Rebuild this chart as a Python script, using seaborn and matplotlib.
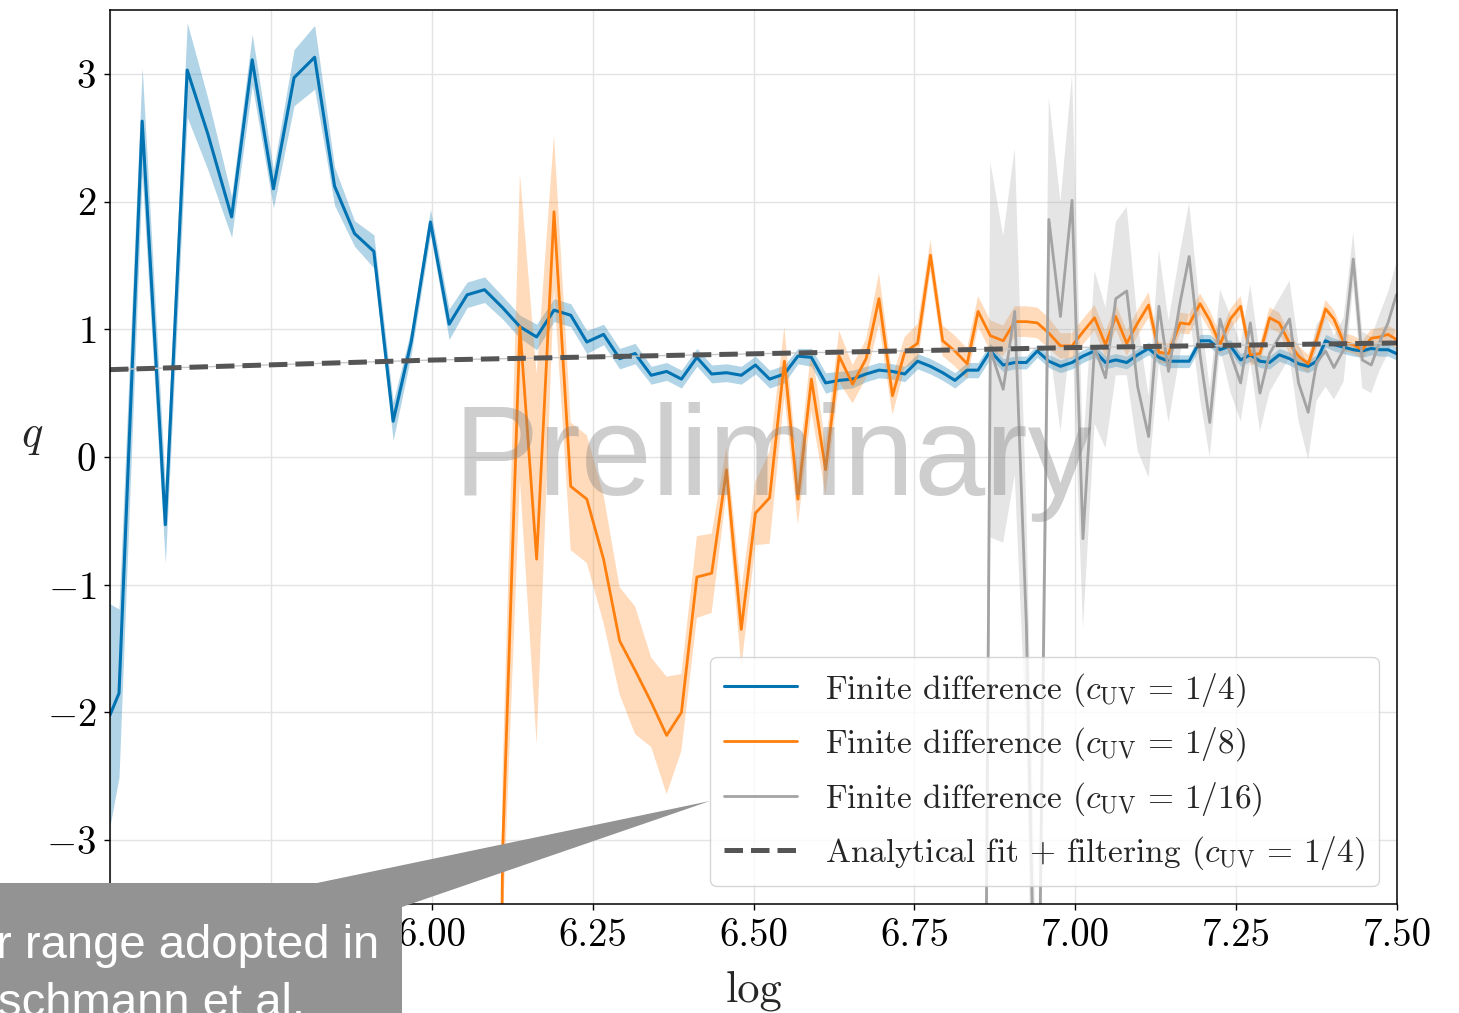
import numpy as np
import pandas as pd
import seaborn as sns
import matplotlib
matplotlib.use("Agg")
import matplotlib.pyplot as plt
from matplotlib.patches import Polygon

# ---------------------------------------------------------------------------
# Data
# ---------------------------------------------------------------------------
# common sampling grid in log space
log_x = [5.500, 5.514, 5.550, 5.586, 5.620, 5.652, 5.689, 5.721, 5.754, 5.786,
         5.818, 5.849, 5.880, 5.910, 5.940, 5.968, 5.998, 6.027, 6.055, 6.082,
         6.110, 6.137, 6.163, 6.190, 6.216, 6.241, 6.267, 6.292, 6.316, 6.341,
         6.365, 6.388, 6.412, 6.435, 6.458, 6.481, 6.503, 6.525, 6.548, 6.569,
         6.590, 6.612, 6.633, 6.654, 6.675, 6.695, 6.716, 6.735, 6.755, 6.775,
         6.794, 6.813, 6.832, 6.849, 6.868, 6.888, 6.906, 6.924, 6.941, 6.959,
         6.977, 6.995, 7.012, 7.030, 7.047, 7.063, 7.080, 7.097, 7.114, 7.130,
         7.145, 7.163, 7.177, 7.194, 7.209, 7.225, 7.241, 7.257, 7.272, 7.287,
         7.302, 7.317, 7.333, 7.347, 7.362, 7.375, 7.389, 7.402, 7.417, 7.432,
         7.446, 7.460, 7.473, 7.486, 7.499]

# c_UV = 1/4 : mean and half width of the band
q_quarter = [-2.02, -1.85, 2.63, -0.53, 3.03, 2.53, 1.88, 3.11, 2.10, 2.97,
             3.13, 2.12, 1.75, 1.61, 0.28, 0.90, 1.84, 1.04, 1.27, 1.31,
             1.17, 1.02, 0.94, 1.15, 1.11, 0.90, 0.96, 0.77, 0.81, 0.64,
             0.67, 0.61, 0.78, 0.65, 0.66, 0.64, 0.72, 0.61, 0.65, 0.79,
             0.78, 0.58, 0.60, 0.61, 0.65, 0.68, 0.67, 0.65, 0.75, 0.71,
             0.66, 0.60, 0.68, 0.68, 0.83, 0.72, 0.74, 0.74, 0.83, 0.75,
             0.71, 0.74, 0.79, 0.83, 0.74, 0.76, 0.74, 0.80, 0.85, 0.78,
             0.75, 0.75, 0.75, 0.91, 0.91, 0.84, 0.87, 0.76, 0.80, 0.75,
             0.74, 0.80, 0.77, 0.73, 0.71, 0.75, 0.91, 0.88, 0.86, 0.84,
             0.83, 0.85, 0.84, 0.84, 0.81]
err_quarter = [0.87, 0.66, 0.42, 0.30, 0.37, 0.28, 0.16, 0.20, 0.15, 0.22,
               0.25, 0.15, 0.10, 0.13, 0.15, 0.10, 0.10, 0.12, 0.10, 0.10,
               0.09, 0.09, 0.10, 0.09, 0.09, 0.09, 0.08, 0.08, 0.08, 0.07,
               0.07, 0.07, 0.07, 0.07, 0.07, 0.07, 0.07, 0.07, 0.07, 0.06,
               0.07, 0.08, 0.07, 0.07, 0.06, 0.06, 0.06, 0.06, 0.06, 0.06,
               0.06, 0.06, 0.06, 0.06, 0.06, 0.05, 0.05, 0.05, 0.05, 0.05,
               0.05, 0.05, 0.05, 0.05, 0.05, 0.05, 0.05, 0.05, 0.05, 0.05,
               0.05, 0.05, 0.05, 0.05, 0.05, 0.05, 0.05, 0.05, 0.05, 0.05,
               0.05, 0.05, 0.05, 0.05, 0.05, 0.05, 0.05, 0.05, 0.05, 0.05,
               0.05, 0.05, 0.05, 0.05, 0.05]

# c_UV = 1/8 starts at grid index 19
start_eighth = 19
q_eighth = [-20.0, -3.10, 1.02, -0.80, 1.92, -0.23, -0.33, -0.80, -1.44, -1.67,
            -1.92, -2.18, -2.00, -0.94, -0.91, -0.10, -1.35, -0.44, -0.32, 0.75,
            -0.33, 0.61, -0.10, 0.79, 0.57, 0.77, 1.24, 0.48, 0.82, 0.89,
            1.58, 0.91, 0.83, 0.73, 1.14, 0.95, 0.91, 1.06, 1.06, 1.05,
            0.97, 0.87, 0.87, 0.98, 1.09, 0.88, 1.10, 0.89, 1.05, 1.19,
            0.82, 0.81, 1.05, 1.04, 1.20, 1.07, 0.88, 1.08, 1.18, 0.80,
            0.81, 1.09, 1.05, 0.89, 0.79, 0.73, 0.92, 1.16, 1.08, 0.90,
            0.88, 0.84, 0.93, 0.94, 0.96, 0.92]
err_eighth = [0.00, 0.60, 1.20, 1.45, 0.60, 0.50, 0.50, 0.50, 0.42, 0.50,
              0.35, 0.46, 0.30, 0.32, 0.31, 0.18, 0.30, 0.25, 0.36, 0.27,
              0.20, 0.25, 0.20, 0.20, 0.15, 0.15, 0.20, 0.15, 0.12, 0.15,
              0.12, 0.12, 0.12, 0.12, 0.12, 0.12, 0.12, 0.12, 0.12, 0.12,
              0.12, 0.10, 0.10, 0.10, 0.10, 0.10, 0.10, 0.10, 0.10, 0.10,
              0.08, 0.08, 0.08, 0.08, 0.08, 0.08, 0.08, 0.08, 0.08, 0.08,
              0.08, 0.08, 0.08, 0.08, 0.08, 0.07, 0.07, 0.07, 0.07, 0.07,
              0.07, 0.07, 0.07, 0.07, 0.07, 0.07]

# c_UV = 1/16 starts at grid index 53
start_sixteenth = 53
q_sixteenth = [-13.0, 0.84, 0.53, 1.14, -1.31, -5.40, 1.86, 1.10, 2.01, -0.64,
               0.86, 0.62, 1.24, 1.30, 0.55, 0.16, 1.18, 0.67, 1.21, 1.57,
               0.80, 0.27, 1.08, 0.81, 0.58, 1.05, 0.50, 0.81, 0.94, 1.08,
               0.58, 0.35, 0.74, 0.83, 0.70, 0.84, 1.55, 0.76, 0.72, 0.90,
               1.05, 1.27]
err_sixteenth = [2.00, 1.47, 1.20, 1.28, 0.90, 1.00, 0.96, 0.90, 0.98, 0.70,
                 0.60, 0.55, 0.60, 0.66, 0.50, 0.32, 0.44, 0.40, 0.40, 0.42,
                 0.35, 0.27, 0.23, 0.30, 0.30, 0.30, 0.30, 0.30, 0.30, 0.30,
                 0.30, 0.37, 0.30, 0.28, 0.25, 0.25, 0.21, 0.22, 0.22, 0.22,
                 0.24, 0.25]

# analytical fit + filtering (c_UV = 1/4)
fit_x = [5.50, 6.00, 6.50, 7.00, 7.50]
fit_q = [0.684, 0.759, 0.808, 0.857, 0.893]

x_ticks = [5.5, 5.75, 6.0, 6.25, 6.5, 6.75, 7.0, 7.25, 7.5]
x_ticklabels = ["", "", "6.00", "6.25", "6.50", "6.75", "7.00", "7.25", "7.50"]
y_ticks = [-3, -2, -1, 0, 1, 2, 3]

labels = [r"Finite difference ($c_{\rm UV}\,=\,1/4$)",
          r"Finite difference ($c_{\rm UV}\,=\,1/8$)",
          r"Finite difference ($c_{\rm UV}\,=\,1/16$)",
          r"Analytical fit + filtering ($c_{\rm UV}\,=\,1/4$)"]

# ---------------------------------------------------------------------------
# Style
# ---------------------------------------------------------------------------
sns.set_theme(style="whitegrid")
plt.rcParams.update({
    "font.family": "serif",
    "font.serif": ["cmr10"],
    "mathtext.fontset": "cm",
    "axes.formatter.use_mathtext": True,
    "axes.unicode_minus": True,
    "axes.edgecolor": "black",
    "axes.linewidth": 1.1,
    "grid.color": "#e3e3e3",
    "grid.linewidth": 1.0,
    "xtick.bottom": True,
    "ytick.left": True,
    "xtick.major.size": 4,
    "ytick.major.size": 4,
    "xtick.color": "black",
    "ytick.color": "black",
})

BLUE = "#0173b2"
ORANGE = "#ff7f0e"
GREY = "#a3a3a3"
FIT = "#555555"

W, H = 1459, 1013
fig = plt.figure(figsize=(W / 100, H / 100), dpi=100)
ax = fig.add_axes([110 / W, 1 - 904 / H, 1287 / W, 894 / H])

x_all = np.array(log_x)


def series_frame(start, values, errs):
    x = x_all[start:start + len(values)]
    v = np.array(values)
    e = np.array(errs)
    return pd.DataFrame({"x": x, "q": v, "lo": v - e, "hi": v + e})


df_q = series_frame(0, q_quarter, err_quarter)
df_e = series_frame(start_eighth, q_eighth, err_eighth)
df_s = series_frame(start_sixteenth, q_sixteenth, err_sixteenth)
df_fit = pd.DataFrame({"x": fit_x, "q": fit_q})

for df, col, a in [(df_q, BLUE, 0.30), (df_e, ORANGE, 0.28), (df_s, GREY, 0.28)]:
    ax.fill_between(df["x"], df["lo"], df["hi"], color=col, alpha=a, lw=0)

sns.lineplot(data=df_q, x="x", y="q", color=BLUE, lw=2.2, ax=ax, label=labels[0])
sns.lineplot(data=df_e, x="x", y="q", color=ORANGE, lw=2.0, ax=ax, label=labels[1])
sns.lineplot(data=df_s, x="x", y="q", color=GREY, lw=2.0, ax=ax, label=labels[2])
sns.lineplot(data=df_fit, x="x", y="q", color="#c8c8c8", lw=1.0, ax=ax, legend=False)
sns.lineplot(data=df_fit, x="x", y="q", color=FIT, lw=3.6, ax=ax,
             linestyle="--", label=labels[3])

ax.set_xlim(5.5, 7.5)
ax.set_ylim(-3.5, 3.5)
ax.set_xticks(x_ticks)
ax.set_xticklabels(x_ticklabels)
ax.set_yticks(y_ticks)
ax.tick_params(axis="both", labelsize=28, pad=6, width=1.0, length=4)
for sp in ax.spines.values():
    sp.set_visible(True)
    sp.set_color("black")

ax.set_xlabel("log", fontsize=32, labelpad=12)
ax.set_ylabel("$q$", fontsize=32, rotation=0, va="center", ha="center")
ax.yaxis.set_label_coords(-78 / 1287, 0.522)

leg = ax.legend(loc="lower right", fontsize=24, framealpha=0.8,
                handlelength=2.2, handletextpad=0.85, borderaxespad=0.55)
leg.get_frame().set_edgecolor("#cccccc")

# watermark
ax.text(0.515, 0.4575, "Preliminary", transform=ax.transAxes, ha="center",
        va="baseline", fontsize=92, family="Liberation Sans",
        color="#808080", alpha=0.38, zorder=10)

# callout box
def px(xp, yp):
    return (xp / W, 1 - yp / H)


callout = Polygon([px(-10, 883), px(317, 883), px(710, 801), px(402, 907),
                   px(402, 1030), px(-10, 1030)], closed=True,
                  transform=fig.transFigure, facecolor="#939393",
                  edgecolor="none", zorder=20)
fig.add_artist(callout)
fig.text(-4 / W, 1 - 958 / H, "r range adopted in", color="white",
         fontsize=34, family="Liberation Sans", ha="left", va="baseline",
         zorder=21)
fig.text(-2 / W, 1 - 1016 / H, "schmann et al.", color="white",
         fontsize=34, family="Liberation Sans", ha="left", va="baseline",
         zorder=21)

fig.savefig("out.png", dpi=100)
